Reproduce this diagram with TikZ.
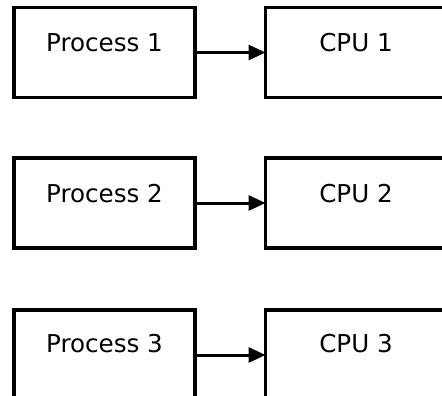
\documentclass[tikz,border=0pt]{standalone}
\usepackage{fontspec}
\setmainfont{DejaVu Sans}
\usetikzlibrary{arrows.meta}
\begin{document}
\begin{tikzpicture}[x=1pt,y=-1pt,
  box/.style={draw=black, line width=3.3pt, minimum width=181pt, minimum height=90pt,
    inner sep=0pt, outer sep=0pt},
  boxtext/.style={font=\fontsize{24.6}{29}\selectfont, inner sep=0pt, text=black},
  flow/.style={line width=3pt, -{Triangle[length=17pt,width=15pt]}}]
  \path[use as bounding box, clip] (0,0) rectangle (442,396);
  \fill[white] (0,0) rectangle (442,396);

  % process boxes on the left, CPU boxes on the right
  \node[box] (p1) at (104.5,52.5) {};
  \node[box] (p2) at (104.5,203) {};
  \node[box] (p3) at (104.5,355) {};
  \node[box] (c1) at (356,52.5) {};
  \node[box] (c2) at (356,203) {};
  \node[box] (c3) at (356,355) {};

  % labels sit a little above the box centres
  \node[boxtext] (tp1) at ([yshift=10pt]p1.center) {Process 1};
  \node[boxtext] (tp2) at ([yshift=9pt]p2.center) {Process 2};
  \node[boxtext] (tp3) at ([yshift=11pt]p3.center) {Process 3};
  \node[boxtext] (tc1) at ([yshift=10pt]c1.center) {CPU 1};
  \node[boxtext] (tc2) at ([yshift=9pt]c2.center) {CPU 2};
  \node[boxtext] (tc3) at ([yshift=11pt]c3.center) {CPU 3};

  % each process is assigned to one CPU
  \draw[flow] (p1.east) -- (c1.west);
  \draw[flow] (p2.east) -- (c2.west);
  \draw[flow] (p3.east) -- (c3.west);
\end{tikzpicture}
\end{document}
